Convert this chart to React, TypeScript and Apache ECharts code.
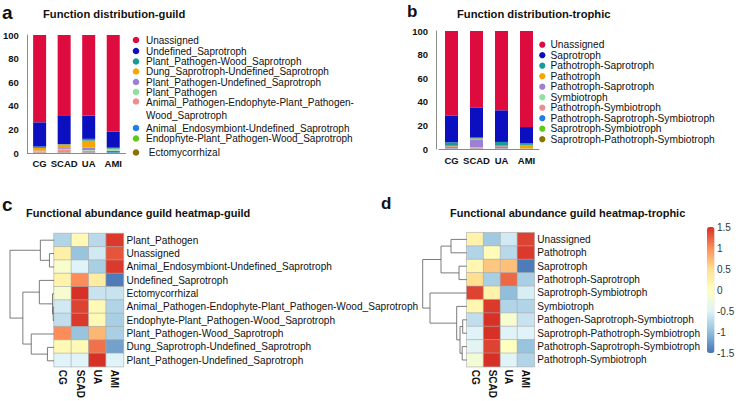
import React, { useEffect, useRef } from 'react';
import * as echarts from 'echarts';

const FONT = '"Liberation Sans", Arial, Helvetica, sans-serif';

// ---------- shared categories ----------
const groups = ['CG', 'SCAD', 'UA', 'AMI'];

// ---------- panel a : guild composition (%) ----------
const guildLegend = [
  'Unassigned',
  'Undefined_Saprotroph',
  'Plant_Pathogen-Wood_Saprotroph',
  'Dung_Saprotroph-Undefined_Saprotroph',
  'Plant_Pathogen-Undefined_Saprotroph',
  'Plant_Pathogen',
  'Animal_Pathogen-Endophyte-Plant_Pathogen-\nWood_Saprotroph',
  'Animal_Endosymbiont-Undefined_Saprotroph',
  'Endophyte-Plant_Pathogen-Wood_Saprotroph',
  ' Ectomycorrhizal',
];
const guildColors = ['#DE0B3E', '#0B0FBF', '#179B97', '#F5A600', '#9B80D4', '#8EE0A0', '#F08C8C', '#1E7FE8', '#62C91A', '#8A7300'];
const guildUnassigned = [74, 68, 68.5, 82];
const guildUndefinedSaprotroph = [20.5, 24.5, 19.5, 13.5];
const guildPlantPathogenWood = [1.2, 0.3, 1.5, 0.8];
const guildDung = [2.2, 3, 6, 0.3];
const guildPlantPathogenUndefined = [0.4, 0.7, 2, 0.2];
const guildPlantPathogen = [0.3, 0.5, 0.5, 1.2];
const guildAnimalPathogen = [1.0, 2.5, 1.5, 0.2];
const guildAnimalEndosymbiont = [0.2, 0.2, 0.3, 1.5];
const guildEndophyte = [0.1, 0.2, 0.1, 0.2];
const guildEcto = [0.1, 0.1, 0.1, 0.1];
const guildSeries = [
  guildUnassigned, guildUndefinedSaprotroph, guildPlantPathogenWood, guildDung,
  guildPlantPathogenUndefined, guildPlantPathogen, guildAnimalPathogen,
  guildAnimalEndosymbiont, guildEndophyte, guildEcto,
];

// ---------- panel b : trophic composition (%) ----------
const trophicLegend = [
  'Unassigned', 'Saprotroph', 'Pathotroph-Saprotroph', 'Pathotroph', 'Pathotroph-Saprotroph',
  'Symbiotroph', 'Pathotroph-Symbiotroph', 'Pathotroph-Saprotroph-Symbiotroph',
  'Saprotroph-Symbiotroph', 'Saprotroph-Pathotroph-Symbiotroph',
];
const trophicColors = ['#DE0B3E', '#0B0FBF', '#179B97', '#F5A600', '#9B80D4', '#8EE0A0', '#F08C8C', '#1E7FE8', '#62C91A', '#8A7300'];
const trophUnassigned = [71.5, 64.7, 67.2, 81.4];
const trophSaprotroph = [22.8, 25.6, 26.8, 13.6];
const trophPathSap1 = [3, 0.8, 3.2, 1.5];
const trophPathotroph = [0.5, 1.0, 0.5, 3.0];
const trophPathSap2 = [1.7, 6.5, 1.8, 0.2];
const trophSymbiotroph = [0.2, 0.5, 0.2, 0.1];
const trophPathSymb = [0.1, 0.4, 0.1, 0.1];
const trophPathSapSymb = [0.1, 0.2, 0.1, 0.05];
const trophSapSymb = [0.05, 0.2, 0.05, 0.05];
const trophSapPathSymb = [0.05, 0.1, 0.05, 0.0];
const trophicSeries = [
  trophUnassigned, trophSaprotroph, trophPathSap1, trophPathotroph, trophPathSap2,
  trophSymbiotroph, trophPathSymb, trophPathSapSymb, trophSapSymb, trophSapPathSymb,
];

// ---------- panel c : guild heatmap (row z-scores) ----------
const guildHeatRows = [
  'Plant_Pathogen', 'Unassigned', 'Animal_Endosymbiont-Undefined_Saprotroph', 'Undefined_Saprotroph',
  'Ectomycorrhizal', 'Animal_Pathogen-Endophyte-Plant_Pathogen-Wood_Saprotroph',
  'Endophyte-Plant_Pathogen-Wood_Saprotroph', 'Plant_Pathogen-Wood_Saprotroph',
  'Dung_Saprotroph-Undefined_Saprotroph', 'Plant_Pathogen-Undefined_Saprotroph',
];
const guildZ = [
  [-0.8, 0.1, -0.75, 1.45],
  [0.25, -0.95, -0.6, 1.3],
  [-0.1, -0.5, -0.85, 1.45],
  [0.2, 1.0, 0.3, -1.45],
  [-0.15, 1.5, -0.65, -0.65],
  [-0.6, 1.4, 0.1, -0.8],
  [-0.7, 1.45, 0.1, -0.85],
  [1.0, -0.95, 0.75, -0.85],
  [0.1, 0.1, 1.15, -1.2],
  [-0.5, -0.5, 1.5, -0.5],
];
// hclust-style merges (negative = leaf row, positive = earlier merge) and heights
const guildMerge = [[-2, -3], [-1, 1], [-6, -7], [-5, 3], [-4, 4], [-9, -10], [-8, 6], [5, 7], [2, 8]];
const guildHeights = [4.5, 13.5, 0.8, 1.5, 14.5, 6.5, 22.5, 30.8, 43.5];

// ---------- panel d : trophic heatmap (row z-scores) ----------
const trophicHeatRows = [
  'Unassigned', 'Pathotroph', 'Saprotroph', 'Pathotroph-Saprotroph', 'Saprotroph-Symbiotroph',
  'Symbiotroph', 'Pathogen-Saprotroph-Symbiotroph', 'Saprotroph-Pathotroph-Symbiotroph',
  'Pathotroph-Saprotroph-Symbiotroph', 'Pathotroph-Symbiotroph',
];
const trophicZ = [
  [0.2, -0.9, -0.6, 1.4],
  [-0.8, 0.05, -0.75, 1.45],
  [0.15, 0.65, 0.7, -1.45],
  [0.5, -0.85, 1.2, -0.85],
  [1.4, 0.2, -1.0, -0.55],
  [0.15, 1.45, -0.8, -0.8],
  [-0.7, 1.5, -0.15, -0.65],
  [-0.5, 1.5, -0.5, -0.5],
  [-0.45, 1.4, 0.0, -0.95],
  [-0.2, 1.5, -0.5, -0.8],
];
const trophicMerge = [[-1, -2], [-3, -4], [1, 2], [-7, -8], [-9, -10], [4, 5], [-6, 6], [-5, 7], [3, 8]];
const trophicHeights = [15.7, 7.7, 25.7, 4, 4.5, 6.7, 10, 36.7, 44];

const colorTicks = [-1.5, 1.5];
const heatPalette = ['#4575B4', '#91BFDB', '#E0F3F8', '#FFFFBF', '#FEE090', '#FC8D59', '#D73027'];

function dendroLines(merge: number[][], heights: number[]) {
  const pos: { x: number; y: number }[] = [];
  const out: any[] = [];
  merge.forEach(([a, b], i) => {
    const pa = a < 0 ? { x: 0, y: -a - 1 } : pos[a - 1];
    const pb = b < 0 ? { x: 0, y: -b - 1 } : pos[b - 1];
    const h = heights[i];
    out.push({ coords: [[pa.x, pa.y], [h, pa.y], [h, pb.y], [pb.x, pb.y]] });
    pos.push({ x: h, y: (pa.y + pb.y) / 2 });
  });
  return out;
}

function heatData(z: number[][]) {
  const d: number[][] = [];
  z.forEach((row, r) => row.forEach((v, c) => d.push([c, r, v])));
  return d;
}

function txt(text: string, x: number, y: number, size: number, weight: string, align = 'left', extra: any = {}) {
  return {
    type: 'text',
    x,
    y,
    silent: true,
    style: {
      text,
      fontSize: size,
      fontWeight: weight,
      fontFamily: FONT,
      fill: '#111',
      textAlign: align,
      textVerticalAlign: 'middle',
      align,
      verticalAlign: 'middle',
      ...extra,
    },
  };
}

function buildOption() {
  const axisGray = '#8a8a8a';
  const barX = (grid: number, margin: number) => ({
    type: 'category', gridIndex: grid, data: groups,
    axisLine: { lineStyle: { color: axisGray, width: 1 } },
    axisTick: { show: false },
    axisLabel: { interval: 0, fontFamily: FONT, fontWeight: 'bold', fontSize: 9.5, color: '#111', margin },
  });
  const barY = (grid: number, offset: number) => ({
    type: 'value', gridIndex: grid, min: 0, max: 100, interval: 20, offset,
    axisLine: { show: true, lineStyle: { color: axisGray, width: 1 } },
    axisTick: { show: false },
    splitLine: { show: false },
    axisLabel: { fontFamily: FONT, fontWeight: 'bold', fontSize: 9.5, color: '#111', margin: 8.5 },
  });
  const heatX = (grid: number) => ({
    type: 'category', gridIndex: grid, data: groups, position: 'bottom',
    axisLine: { show: false }, axisTick: { show: false }, splitLine: { show: false },
    axisLabel: { interval: 0, rotate: -90, fontFamily: FONT, fontWeight: 'bold', fontSize: 10, color: '#111', margin: 3 },
  });
  const heatY = (grid: number, rows: string[]) => ({
    type: 'category', gridIndex: grid, data: rows, inverse: true, position: 'right',
    axisLine: { show: false }, axisTick: { show: false }, splitLine: { show: false },
    axisLabel: { interval: 0, fontFamily: FONT, fontSize: 10.1, color: '#111', margin: 3 },
  });
  const hidden = (grid: number, extra: any) => ({ type: 'value', gridIndex: grid, show: false, ...extra });

  const series: any[] = [];
  // stacked bars: ggplot puts the first level at the top, so stack from the last
  for (let i = guildSeries.length - 1; i >= 0; i--) {
    series.push({
      type: 'bar', name: guildLegend[i], xAxisIndex: 0, yAxisIndex: 0, stack: 'guild',
      barWidth: 13, data: guildSeries[i], itemStyle: { color: guildColors[i] }, silent: true,
    });
  }
  for (let i = trophicSeries.length - 1; i >= 0; i--) {
    series.push({
      type: 'bar', name: trophicLegend[i], xAxisIndex: 1, yAxisIndex: 1, stack: 'troph',
      barWidth: 13, data: trophicSeries[i], itemStyle: { color: trophicColors[i] }, silent: true,
    });
  }
  const heatC = series.length;
  series.push({
    type: 'heatmap', xAxisIndex: 2, yAxisIndex: 2, data: heatData(guildZ), silent: true,
    itemStyle: { borderColor: '#a9a9a9', borderWidth: 0.6 },
  });
  const heatD = series.length;
  series.push({
    type: 'heatmap', xAxisIndex: 3, yAxisIndex: 3, data: heatData(trophicZ), silent: true,
    itemStyle: { borderColor: '#a9a9a9', borderWidth: 0.6 },
  });
  series.push({
    type: 'lines', coordinateSystem: 'cartesian2d', xAxisIndex: 4, yAxisIndex: 4, polyline: true,
    data: dendroLines(guildMerge, guildHeights), silent: true,
    lineStyle: { color: '#5a5a5a', width: 0.8, opacity: 1 },
  });
  series.push({
    type: 'lines', coordinateSystem: 'cartesian2d', xAxisIndex: 5, yAxisIndex: 5, polyline: true,
    data: dendroLines(trophicMerge, trophicHeights), silent: true,
    lineStyle: { color: '#5a5a5a', width: 0.8, opacity: 1 },
  });

  const graphic: any[] = [];
  graphic.push(txt('a', 2, 12, 19, 'bold'));
  graphic.push(txt('Function distribution-guild', 43, 14, 11.2, 'bold'));
  graphic.push(txt('b', 407, 11, 17, 'bold'));
  graphic.push(txt('Function distribution-trophic', 457, 14, 11.2, 'bold'));
  graphic.push(txt('c', 2, 204, 19, 'bold'));
  graphic.push(txt('Functional abundance guild heatmap-guild', 26, 213, 11, 'bold'));
  graphic.push(txt('d', 381, 203, 17, 'bold'));
  graphic.push(txt('Functional abundance guild heatmap-trophic', 450, 213, 11, 'bold'));

  const legA = [40, 51, 61.5, 71.5, 82, 92, 101.5, 128, 138.5, 152.5];
  guildLegend.forEach((name, i) => {
    graphic.push({ type: 'circle', shape: { cx: 136, cy: legA[i], r: 3.3 }, style: { fill: guildColors[i] }, silent: true });
    if (name.includes('\n')) {
      graphic.push(txt(name, 146, legA[i] - 5.5, 10, 'normal', 'left', { verticalAlign: 'top', textVerticalAlign: 'top', lineHeight: 13 }));
    } else {
      graphic.push(txt(name, 146, legA[i], 10, 'normal'));
    }
  });
  trophicLegend.forEach((name, i) => {
    const y = 44.7 + i * 10.5;
    graphic.push({ type: 'circle', shape: { cx: 542.3, cy: y, r: 3.1 }, style: { fill: trophicColors[i] }, silent: true });
    graphic.push(txt(name, 550.5, y, 10.2, 'normal'));
  });

  return {
    animation: false,
    backgroundColor: '#ffffff',
    textStyle: { fontFamily: FONT },
    grid: [
      { left: 24.5, top: 35, width: 101, height: 118 },
      { left: 439, top: 31, width: 100, height: 118 },
      { left: 54, top: 233.5, width: 69.5, height: 134 },
      { left: 466.7, top: 232.7, width: 67.6, height: 134 },
      { left: 10, top: 233.5, width: 44, height: 134 },
      { left: 422.7, top: 232.7, width: 44, height: 134 },
      { left: 707, top: 227, width: 7.5, height: 126 },
    ],
    xAxis: [
      barX(0, 5), barX(1, 6), heatX(2), heatX(3),
      hidden(4, { min: 0, max: guildHeights[guildHeights.length - 1], inverse: true }),
      hidden(5, { min: 0, max: trophicHeights[trophicHeights.length - 1], inverse: true }),
      hidden(6, { min: 0, max: 1 }),
    ],
    yAxis: [
      barY(0, 0), barY(1, 2.5), heatY(2, guildHeatRows), heatY(3, trophicHeatRows),
      hidden(4, { min: -0.5, max: 9.5, inverse: true }),
      hidden(5, { min: -0.5, max: 9.5, inverse: true }),
      {
        type: 'value', gridIndex: 6, min: colorTicks[0], max: colorTicks[1], interval: 0.5, position: 'right',
        axisLine: { show: false }, axisTick: { show: false }, splitLine: { show: false },
        axisLabel: { fontFamily: FONT, fontSize: 10, color: '#333', margin: 2.5 },
      },
    ],
    visualMap: {
      type: 'continuous', min: colorTicks[0], max: colorTicks[1], seriesIndex: [heatC, heatD],
      inRange: { color: heatPalette }, calculable: false, hoverLink: false,
      left: 707, top: 227, itemWidth: 7.5, itemHeight: 126, padding: 0,
      orient: 'vertical',
    },
    graphic,
    series,
  };
}

export default function App() {
  const ref = useRef<HTMLDivElement>(null);
  useEffect(() => {
    document.body.style.margin = '0';
    const chart = echarts.init(ref.current as HTMLDivElement, null, { renderer: 'svg' });
    chart.setOption(buildOption() as any);
    return () => chart.dispose();
  }, []);
  return <div ref={ref} style={{ position: 'absolute', left: 0, top: 0, width: 738, height: 401 }} />;
}
